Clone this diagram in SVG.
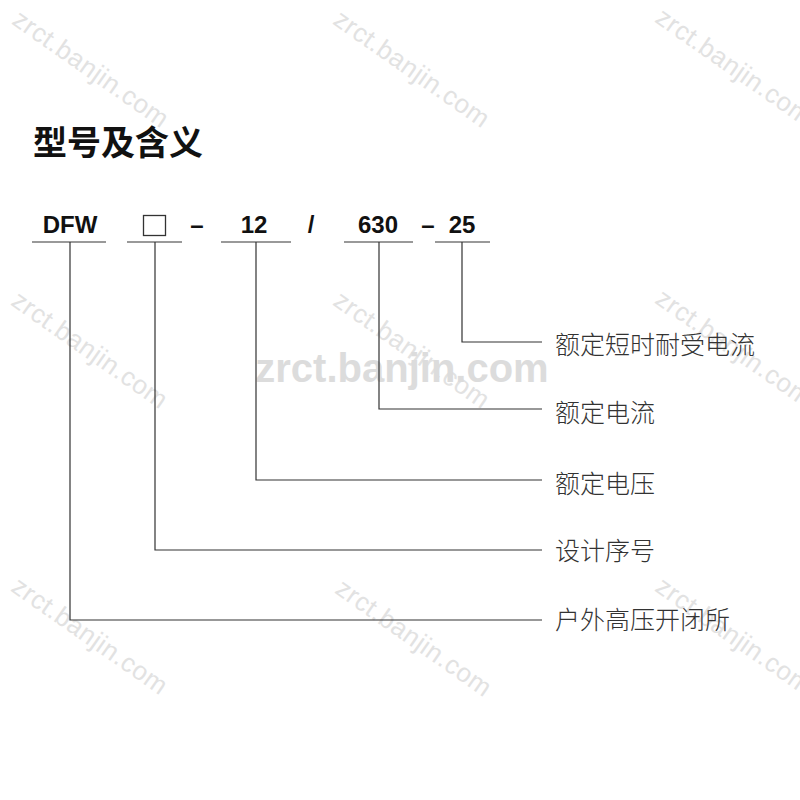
<svg xmlns="http://www.w3.org/2000/svg" width="800" height="800" viewBox="0 0 800 800">
  <style>
    .wm { font-family: "Liberation Sans", Arial, sans-serif; font-size: 26px; letter-spacing: 0.6px; fill: #e2e2e2; }
    .wmc { font-family: "Liberation Sans", Arial, sans-serif; font-size: 40px; font-weight: bold; fill: #dcdcdc; }
    .title { font-family: "Noto Sans CJK SC", sans-serif; font-size: 34px; font-weight: bold; fill: #111; }
    .code { font-family: "Liberation Sans", Arial, sans-serif; font-size: 24px; font-weight: bold; fill: #111; text-anchor: middle; }
    .label { font-family: "Noto Sans CJK SC", sans-serif; font-size: 25px; font-weight: 300; fill: #333; }
    .ul { stroke: #777; stroke-width: 1.5; fill: none; }
    .conn { stroke: #333; stroke-width: 1.2; fill: none; }
  </style>
  <rect width="800" height="800" fill="#ffffff"/>
  <g id="watermarks">
    <text class="wm" text-anchor="middle" transform="translate(86,76) rotate(35)">zrct.banjin.com</text>
    <text class="wm" text-anchor="middle" transform="translate(407,76) rotate(35)">zrct.banjin.com</text>
    <text class="wm" text-anchor="middle" transform="translate(729,74) rotate(35)">zrct.banjin.com</text>
    <text class="wm" text-anchor="middle" transform="translate(85,357) rotate(35)">zrct.banjin.com</text>
    <text class="wm" text-anchor="middle" transform="translate(407,357) rotate(35)">zrct.banjin.com</text>
    <text class="wm" text-anchor="middle" transform="translate(729,355) rotate(35)">zrct.banjin.com</text>
    <text class="wm" text-anchor="middle" transform="translate(85,643) rotate(35)">zrct.banjin.com</text>
    <text class="wm" text-anchor="middle" transform="translate(409,645) rotate(35)">zrct.banjin.com</text>
    <text class="wm" text-anchor="middle" transform="translate(729,643) rotate(35)">zrct.banjin.com</text>
    <text class="wmc" x="402" y="382" text-anchor="middle">zrct.banjin.com</text>
  </g>
  <g id="title">
    <text class="title" x="33" y="155">型号及含义</text>
  </g>
  <g id="code">
    <g id="code-dfw">
      <text class="code" x="70" y="233">DFW</text>
      <line class="ul" x1="32" y1="242" x2="106" y2="242"/>
    </g>
    <g id="code-box">
      <rect x="143.5" y="215.5" width="22" height="20" fill="none" stroke="#333" stroke-width="1.3"/>
      <line class="ul" x1="127" y1="242" x2="182" y2="242"/>
    </g>
    <text class="code" x="197" y="233">–</text>
    <g id="code-12">
      <text class="code" x="254" y="233">12</text>
      <line class="ul" x1="221" y1="242" x2="291" y2="242"/>
    </g>
    <text class="code" x="311" y="233">/</text>
    <g id="code-630">
      <text class="code" x="378" y="233">630</text>
      <line class="ul" x1="344" y1="242" x2="413" y2="242"/>
    </g>
    <text class="code" x="428" y="233">–</text>
    <g id="code-25">
      <text class="code" x="462" y="233">25</text>
      <line class="ul" x1="435" y1="242" x2="490" y2="242"/>
    </g>
  </g>
  <g id="connectors">
    <polyline class="conn" points="462,242 462,342 542,342"/>
    <polyline class="conn" points="379,242 379,409 542,409"/>
    <polyline class="conn" points="256,242 256,480 542,480"/>
    <polyline class="conn" points="155,242 155,550 542,550"/>
    <polyline class="conn" points="70,242 70,620 542,620"/>
  </g>
  <g id="labels">
    <g id="label-25"><text class="label" x="555" y="354">额定短时耐受电流</text></g>
    <g id="label-630"><text class="label" x="555" y="422">额定电流</text></g>
    <g id="label-12"><text class="label" x="555" y="493">额定电压</text></g>
    <g id="label-box"><text class="label" x="555" y="560">设计序号</text></g>
    <g id="label-dfw"><text class="label" x="555" y="629">户外高压开闭所</text></g>
  </g>
</svg>
